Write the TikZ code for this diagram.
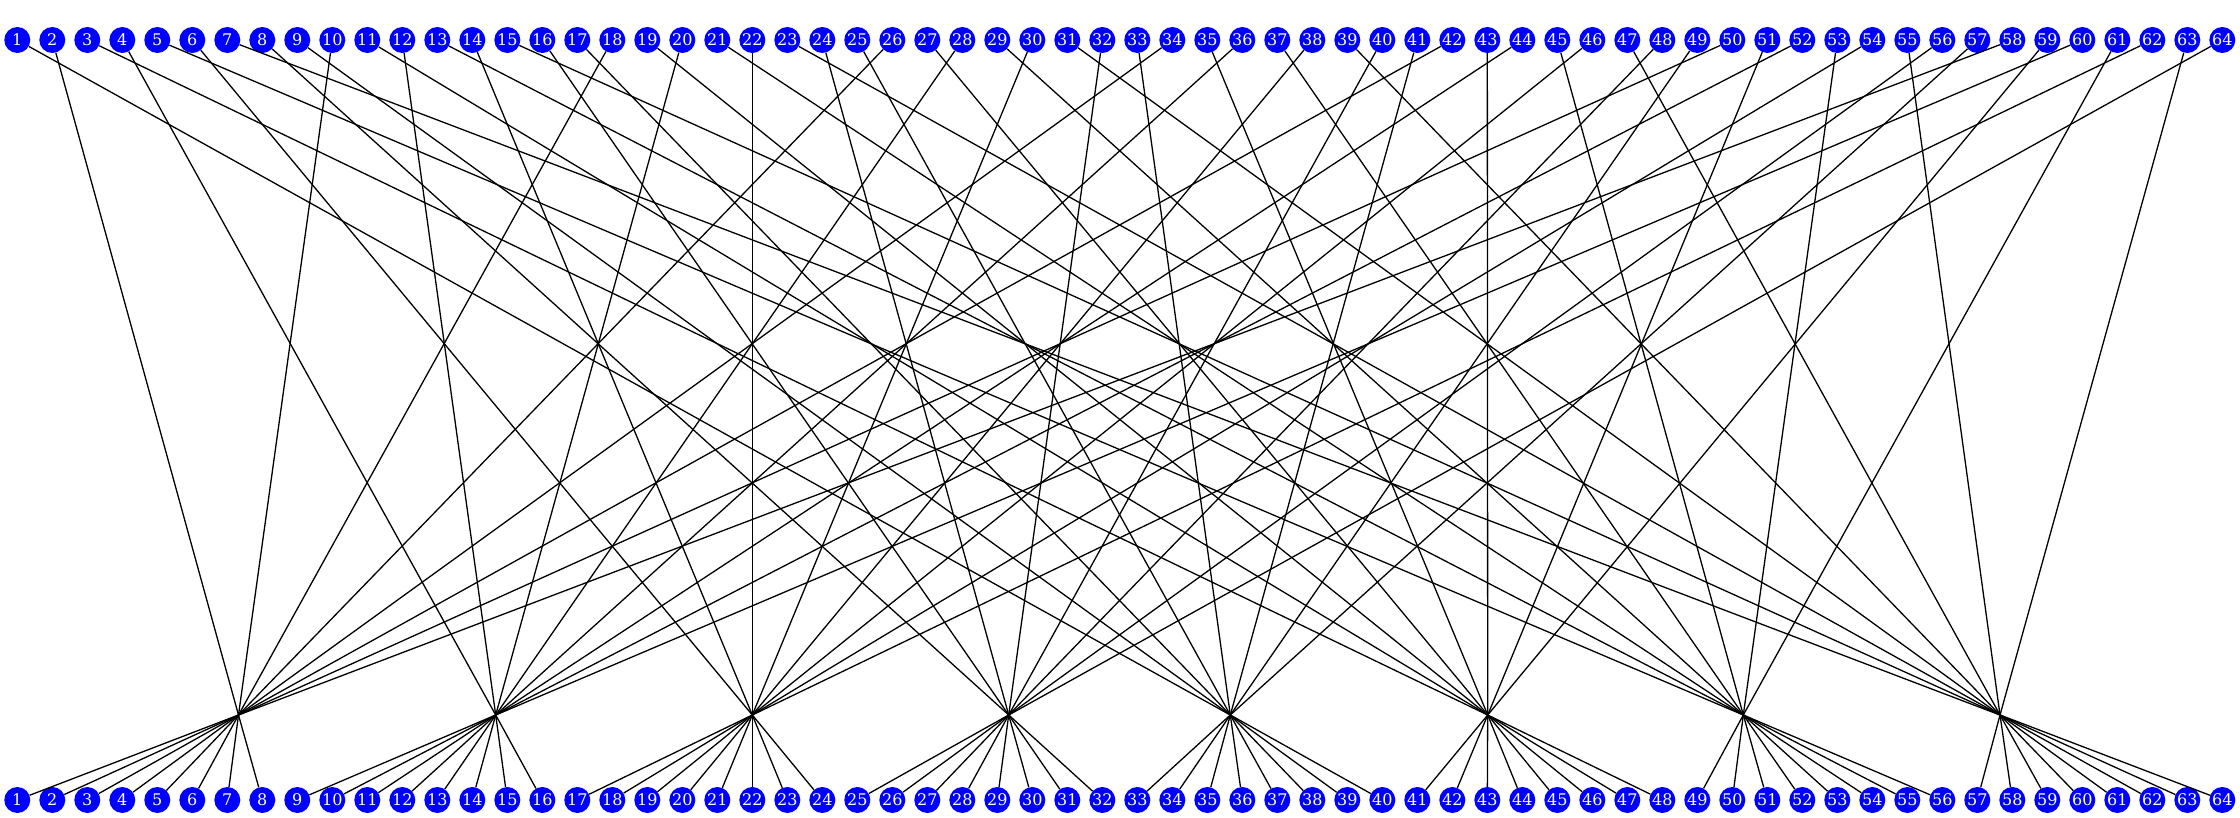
\documentclass[tikz,border=0pt]{standalone}
\usepackage{fontspec}
\setmainfont{DejaVu Serif}
\begin{document}
\begin{tikzpicture}[x=1pt,y=-1pt,
  nd/.style={circle, fill=blue, text=white, inner sep=0pt, minimum size=26pt, font=\fontsize{16}{16}\selectfont},
  edge/.style={line width=1.3pt, black}]
\useasboundingbox (0,0) rectangle (2240,818);
\foreach \i in {1,...,64} {
  \pgfmathsetmacro\xx{17.3+35*(\i-1)}
  \node[nd] (t\i) at (\xx,40) {\i};
  \node[nd] (b\i) at (\xx,800) {\i};
}
\foreach \k/\hx in {0/238.5,1/495.7,2/752.3,3/1008.7,4/1230.3,5/1487.7,6/1743.3,7/2000}
  \coordinate (h\k) at (\hx,715);
\foreach \i in {1,...,64} {
  \pgfmathtruncatemacro\r{mod(\i-1,8)}
  \pgfmathtruncatemacro\h{mod(\r,2)==1 ? (\r-1)/2 : 4+\r/2}
  \draw[edge] (t\i) -- (h\h);
}
\foreach \k in {0,...,7} {
  \foreach \j in {1,...,8} {
    \pgfmathtruncatemacro\b{8*\k+\j}
    \draw[edge] (h\k) -- (b\b);
  }
}
\end{tikzpicture}
\end{document}
